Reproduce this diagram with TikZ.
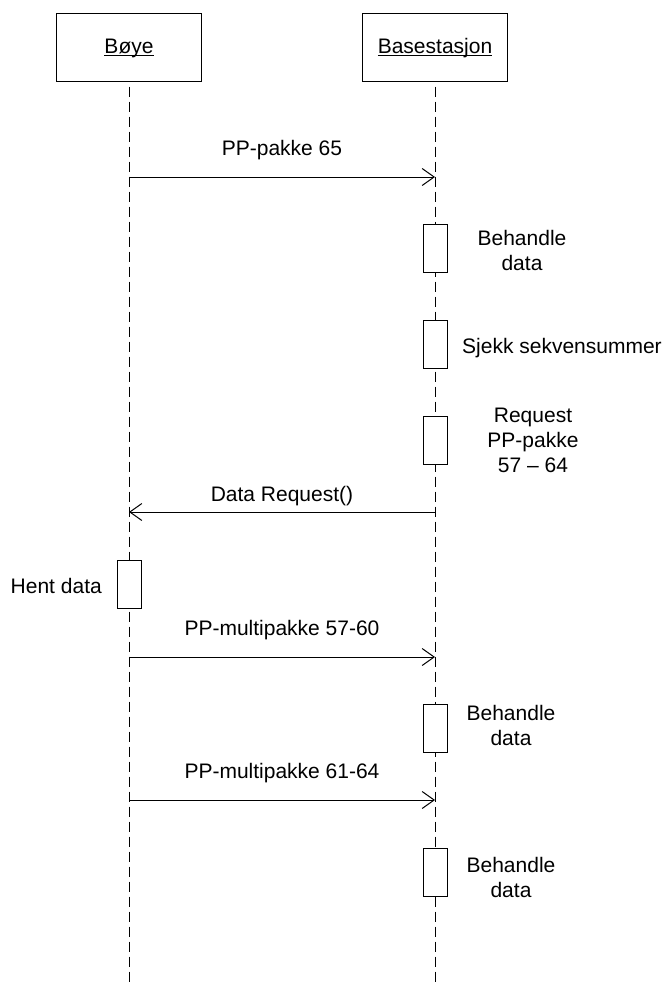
\documentclass[tikz,border=0pt]{standalone}
\usepackage{fontspec}
\setmainfont{Liberation Sans}
\usetikzlibrary{arrows.meta}
% underline set close to the baseline
\newcommand\ulined[1]{\setbox0\hbox{#1}\rlap{\rule[-2.5pt]{\wd0}{0.9pt}}\box0}
\begin{document}
\begin{tikzpicture}[x=1pt,y=-1pt,
  every node/.style={font=\fontsize{21}{25}\selectfont, inner sep=0pt},
  actor/.style={draw, line width=1pt, minimum width=145pt, minimum height=68pt,
                text height=18pt, text depth=6pt},
  lifeline/.style={line width=1pt, dash pattern=on 10pt off 5pt, dash phase=10pt},
  activation/.style={draw, fill=white, line width=1pt, minimum width=24pt, minimum height=48pt},
  msg/.style={line width=1pt, -{Straight Barb[length=12pt,width=17pt]}},
  lbl/.style={anchor=base, align=center}]
\useasboundingbox (0,0) rectangle (669,985);

% participants
\node[actor] (boye) at (129,47) {\ulined{Bøye}};
\node[actor] (base) at (435,47) {\ulined{Basestasjon}};

% lifelines
\coordinate (boyeEnd) at (129,985);
\coordinate (baseEnd) at (435,985);
\draw[lifeline] (boye.south) -- (boyeEnd);
\draw[lifeline] (base.south) -- (baseEnd);

% activation bars
\node[activation] (a1) at (435,248) {};
\node[activation] (a2) at (435,344) {};
\node[activation] (a3) at (435,440.5) {};
\node[activation] (h1) at (129,584.5) {};
\node[activation] (a4) at (435,728) {};
\node[activation] (a5) at (435,872.5) {};

% message end points on the lifelines
\coordinate (m1a) at (129,177); \coordinate (m1b) at (435,177);
\coordinate (m2a) at (435,512); \coordinate (m2b) at (129,512);
\coordinate (m3a) at (129,657); \coordinate (m3b) at (435,657);
\coordinate (m4a) at (129,800); \coordinate (m4b) at (435,800);

% messages
\draw[msg] (m1a) -- (m1b);
\draw[msg] (m2a) -- (m2b);
\draw[msg] (m3a) -- (m3b);
\draw[msg] (m4a) -- (m4b);

\node[lbl] (l1) at (282,155) {PP-pakke 65};
\node[lbl] (l2) at (282,501) {Data Request()};
\node[lbl] (l3) at (282,635) {PP-multipakke 57-60};
\node[lbl] (l4) at (282,778) {PP-multipakke 61-64};

% notes beside the activations (base = last line)
\node[lbl] (n1) at (522,270) {Behandle\\data};
\node[anchor=base west] (n2) at (462,353) {Sjekk sekvensummer};
\node[lbl] (n3) at (533,472) {Request\\PP-pakke\\57 – 64};
\node[anchor=base east] (n4) at (102,593) {Hent data};
\node[lbl] (n5) at (511,745) {Behandle\\data};
\node[lbl] (n6) at (511,897) {Behandle\\data};
\end{tikzpicture}
\end{document}
